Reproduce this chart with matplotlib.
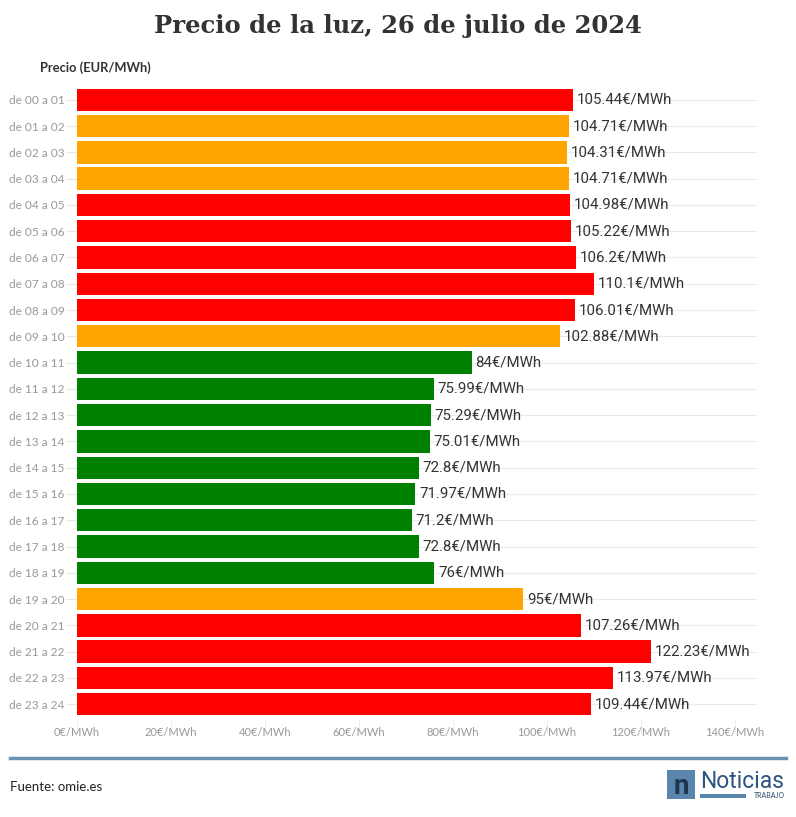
import matplotlib
matplotlib.use("Agg")
import matplotlib.pyplot as plt
from matplotlib.patches import Rectangle

# --- data ---
hours = ["de 00 a 01", "de 01 a 02", "de 02 a 03", "de 03 a 04", "de 04 a 05", "de 05 a 06",
         "de 06 a 07", "de 07 a 08", "de 08 a 09", "de 09 a 10", "de 10 a 11", "de 11 a 12",
         "de 12 a 13", "de 13 a 14", "de 14 a 15", "de 15 a 16", "de 16 a 17", "de 17 a 18",
         "de 18 a 19", "de 19 a 20", "de 20 a 21", "de 21 a 22", "de 22 a 23", "de 23 a 24"]
prices = [105.44, 104.71, 104.31, 104.71, 104.98, 105.22, 106.2, 110.1, 106.01, 102.88,
          84, 75.99, 75.29, 75.01, 72.8, 71.97, 71.2, 72.8, 76, 95,
          107.26, 122.23, 113.97, 109.44]
levels = ["alto", "medio", "medio", "medio", "alto", "alto", "alto", "alto", "alto", "medio",
          "bajo", "bajo", "bajo", "bajo", "bajo", "bajo", "bajo", "bajo", "bajo", "medio",
          "alto", "alto", "alto", "alto"]
x_ticks = [0, 20, 40, 60, 80, 100, 120, 140]

level_colors = {"alto": "#ff0000", "medio": "#ffa500", "bajo": "#008000"}

plt.rcParams['font.family'] = ['Lato', 'DejaVu Sans']

W, H = 796, 817
fig = plt.figure(figsize=(W / 100, H / 100), dpi=100)

ax = fig.add_axes([77 / W, 1 - 720 / H, (757 - 77) / W, (720 - 84) / H])

ypos = list(range(len(hours)))
ax.barh(ypos, prices, height=0.85, color=[level_colors[l] for l in levels], zorder=3)
for y, p in zip(ypos, prices):
    ax.text(p + 0.8, y, f"{p:g}€/MWh", va="center", ha="left", fontsize=10.8,
            color="#333333", zorder=4, family=["Roboto", "DejaVu Sans"])

ax.set_ylim(len(hours) - 0.4, -0.6)
ax.set_xlim(0, 144.7)
ax.set_yticks(ypos)
ax.set_yticklabels(hours, fontsize=8.6, color="#999999")
ax.set_xticks(x_ticks)
ax.set_xticklabels([f"{t}€/MWh" for t in x_ticks], fontsize=8, color="#999999")
ax.tick_params(axis="y", length=8, color="#e6e6e6", pad=1)
ax.tick_params(axis="x", length=0, pad=5)
ax.grid(axis="y", color="#ebebeb", linewidth=0.8, zorder=0)
for s in ax.spines.values():
    s.set_visible(False)
for t in x_ticks:
    ax.plot([t, t], [len(hours) - 0.45, len(hours) + 0.1], color="#eeeeee", lw=0.8,
            clip_on=False, zorder=0)

# title and axis caption
fig.text(0.5, 1 - 26 / H, "Precio de la luz, 26 de julio de 2024", ha="center", va="center",
         fontsize=17.5, fontweight="bold", color="#333333", family=["DejaVu Serif"])
fig.text(40 / W, 1 - 68 / H, "Precio (EUR/MWh)", ha="left", va="center", fontsize=9.3,
         fontweight="bold", color="#333333")

# footer
fig.add_artist(plt.Line2D([10 / W, 786 / W], [1 - 758 / H, 1 - 758 / H], color="#6a93b3",
                          linewidth=2.5, transform=fig.transFigure))
fig.text(10 / W, 1 - 787 / H, "Fuente: omie.es", ha="left", va="center", fontsize=9.5,
         color="#222222")

# logo
fig.add_artist(Rectangle((667 / W, 1 - 799 / H), 28 / W, 29 / H, transform=fig.transFigure,
                         facecolor="#5b86ab", edgecolor="none"))
fig.text(681 / W, 1 - 787 / H, "n", ha="center", va="center", fontsize=20, fontweight="bold",
         color="#1f3550", family=["Roboto", "DejaVu Sans"])
fig.text(700 / W, 1 - 781 / H, "Noticias", ha="left", va="center", fontsize=16.5,
         color="#2d5580", family=["Roboto", "DejaVu Sans"])
fig.add_artist(Rectangle((700 / W, 1 - 798 / H), 46 / W, 4 / H, transform=fig.transFigure,
                         facecolor="#5b86ab", edgecolor="none"))
fig.text(785 / W, 1 - 796 / H, "TRABAJO", ha="right", va="center", fontsize=5,
         color="#2d4b6b")

fig.savefig("out.png", dpi=100)
